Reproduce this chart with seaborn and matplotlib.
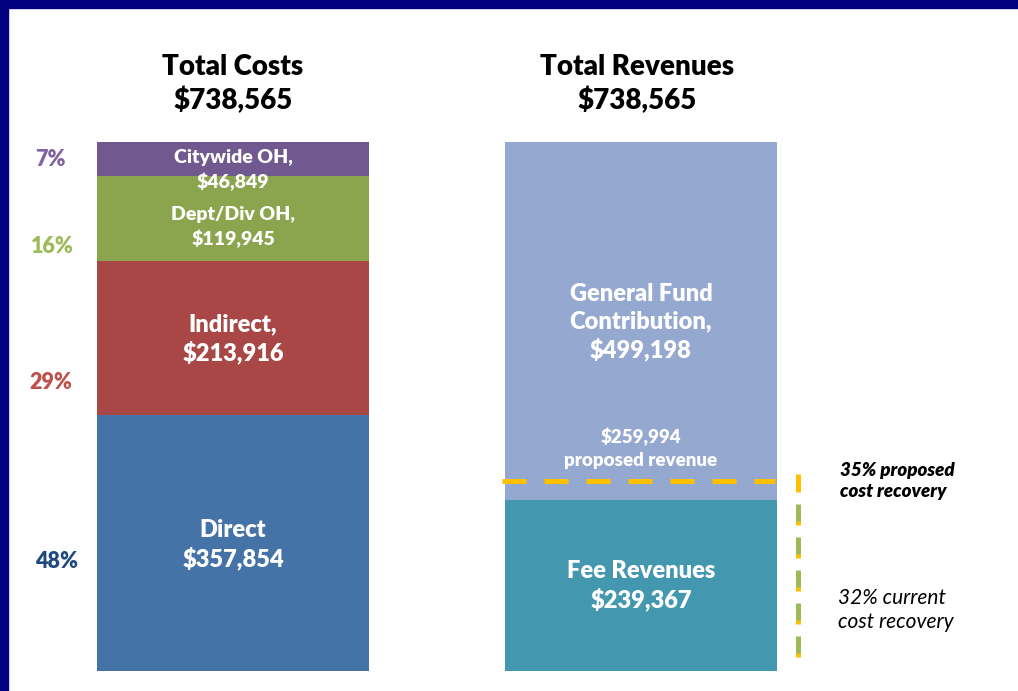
import numpy as np
import pandas as pd
import matplotlib.pyplot as plt
import matplotlib.patches as mpatches
import matplotlib.transforms as mtransforms
import seaborn as sns

# Chart data
bars = ['Costs', 'Revenues']
cost_parts = ['Direct', 'Indirect', 'Dept/Div OH', 'Citywide OH']
cost_values = [357854, 213916, 119945, 46849]
cost_colors = ['#4673A7', '#A84745', '#8AA54E', '#71588F']
cost_pcts = ['48%', '29%', '16%', '7%']
pct_colors = ['#1F497D', '#C0504D', '#9BBB59', '#8064A2']
rev_parts = ['Fee Revenues', 'General Fund Contribution']
rev_values = [239367, 499198]
rev_colors = ['#4398B0', '#95A9D0']
total = 738565
proposed_revenue = 259994

sns.set_theme(style="white")
plt.rcParams['font.family'] = ['Lato', 'DejaVu Sans']

fig = plt.figure(figsize=(10.18, 6.91), dpi=100)
# axes: bottom of bars at pixel 671, top at 142
ax = fig.add_axes([0, 20 / 691, 1, 529 / 691])

# stacked bars drawn as cumulative layers, biggest first
cost_cum = np.cumsum(cost_values)
rev_cum = np.cumsum(rev_values)
for i in range(len(cost_values) - 1, -1, -1):
    df = pd.DataFrame({'bar': ['Costs'], 'value': [cost_cum[i]]})
    sns.barplot(data=df, x='bar', y='value', color=cost_colors[i], saturation=1,
                width=272 / 408, order=bars, ax=ax, linewidth=0)
for i in range(len(rev_values) - 1, -1, -1):
    df = pd.DataFrame({'bar': ['Revenues'], 'value': [rev_cum[i]]})
    sns.barplot(data=df, x='bar', y='value', color=rev_colors[i], saturation=1,
                width=272 / 408, order=bars, ax=ax, linewidth=0)
ax.set_xlim(-233 / 408, 1 + 377 / 408)
ax.set_ylim(0, total)
ax.axis('off')

px = total / 529  # value per pixel


def ypx(p):
    return (671 - p) * px


HW = 'heavy'

# labels inside bars
white = dict(color='white', fontweight=HW, ha='center', va='center')
ax.text(0, ypx(170), 'Citywide OH,\n$46,849', fontsize=14, linespacing=1.38, **white)
ax.text(0, ypx(227), 'Dept/Div OH,\n$119,945', fontsize=14, linespacing=1.38, **white)
ax.text(0, ypx(339), 'Indirect,\n$213,916', fontsize=17, linespacing=1.3, **white)
ax.text(0, ypx(545), 'Direct\n$357,854', fontsize=17, linespacing=1.3, **white)
ax.text(1, ypx(322), 'General Fund\nContribution,\n$499,198', fontsize=17, linespacing=1.3, **white)
ax.text(1, ypx(448), '$259,994\nproposed revenue', fontsize=13.5, linespacing=1.4, **white)
ax.text(1, ypx(586), 'Fee Revenues\n$239,367', fontsize=17, linespacing=1.3, **white)

# titles
for x, t in zip([0, 1], ['Total Costs\n$738,565', 'Total Revenues\n$738,565']):
    ax.text(x + (0 if x == 0 else -4 / 408), ypx(84), t, fontsize=20, fontweight=HW,
            ha='center', va='center', linespacing=1.3, color='black', clip_on=False)

# percentages on the left
pct_y = [562, 382, 246, 160]
pct_x = [57, 51, 52, 50]
for p, c, yy, xx in zip(cost_pcts, pct_colors, pct_y, pct_x):
    ax.text((xx - 233) / 408, ypx(yy), p, fontsize=15.5, fontweight=HW, color=c,
            ha='center', va='center', clip_on=False)

# proposed cost recovery line (nudged up 4 px like the original)
up = mtransforms.offset_copy(ax.transData, fig=fig, x=0, y=4, units='dots')
ax.plot([(502 - 233) / 408, (775 - 233) / 408], [proposed_revenue, proposed_revenue],
        color='#FFC000', lw=3.6, linestyle=(0, (4.8, 3.6)), dash_capstyle='butt',
        transform=up, clip_on=False)

vx = (798 - 233) / 408
ax.plot([vx, vx], [ypx(474), ypx(660)], color='#FFC000', lw=3.6,
        linestyle=(0, (3.6, 3.0)), dash_capstyle='butt', clip_on=False)
ax.plot([vx, vx], [ypx(504), ypx(660)], color='#9BBB59', lw=3.6,
        linestyle=(0, (3.4, 3.2)), dash_capstyle='butt', clip_on=False)

ax.text((840 - 233) / 408, ypx(481), '35% proposed\ncost recovery', fontsize=13.5,
        fontweight=HW, fontstyle='italic', ha='left', va='center',
        linespacing=1.3, color='black', clip_on=False)
ax.text((838 - 233) / 408, ypx(610), '32% current\ncost recovery', fontsize=15,
        fontstyle='italic', ha='left', va='center', linespacing=1.25,
        color='black', clip_on=False)

# navy frame on top and left
fig.patches.append(mpatches.Rectangle((0, 1 - 8 / 691), 1, 8 / 691, transform=fig.transFigure,
                                      color='#000080', zorder=5))
fig.patches.append(mpatches.Rectangle((0, 0), 8 / 1018, 1, transform=fig.transFigure,
                                      color='#000080', zorder=5))

fig.savefig('out.png', dpi=100)
